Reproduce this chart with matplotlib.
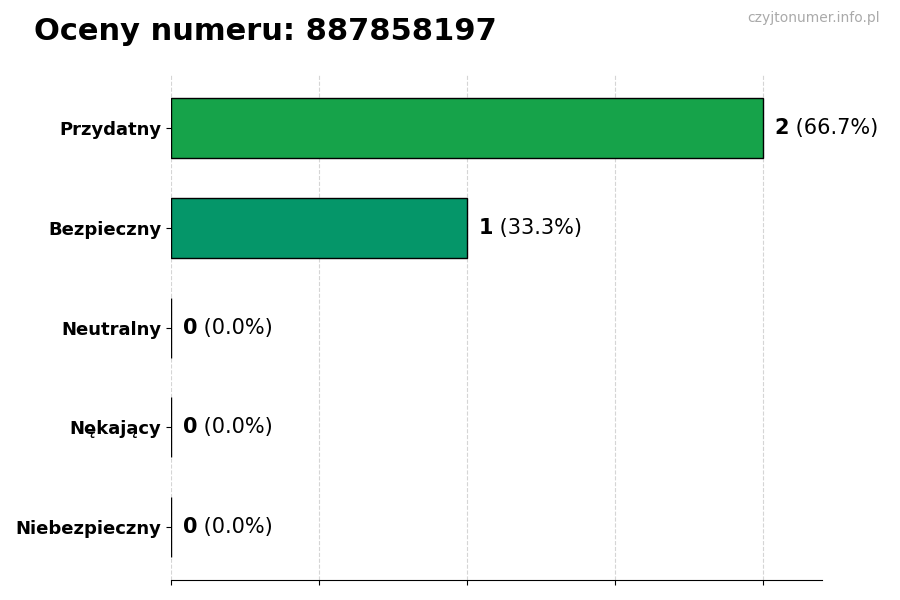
import matplotlib
matplotlib.use("Agg")
import matplotlib.pyplot as plt

categories = ["Przydatny", "Bezpieczny", "Neutralny", "Nękający", "Niebezpieczny"]
counts = [2, 1, 0, 0, 0]
colors = ["#16a34a", "#059669", "#6b7280", "#dc6b2f", "#dc2626"]
title = "Oceny numeru: 887858197"
watermark = "czyjtonumer.info.pl"

total = sum(counts)
fig = plt.figure(figsize=(9, 6), dpi=100)
ax = fig.add_axes([0.19, 0.033, 0.723, 0.842])

ypos = list(range(len(categories)))
ax.barh(ypos, counts, height=0.6, color=colors, edgecolor="black", linewidth=1, zorder=2)
ax.invert_yaxis()
ax.set_yticks(ypos)
ax.set_yticklabels(categories, fontsize=13, fontweight="bold")
ax.set_xlim(0, 2.2)
ax.set_xticks([0, 0.5, 1, 1.5, 2])
ax.set_xticklabels([])
ax.grid(axis="x", linestyle="--", color="#d5d5d5", linewidth=0.8, zorder=0)
for s in ["top", "right", "left"]:
    ax.spines[s].set_visible(False)

for y, c in zip(ypos, counts):
    pct = c / total * 100 if total else 0
    x0 = c + 0.04
    t = ax.annotate(f"{c}", xy=(x0, y), va="center", ha="left", fontsize=15, fontweight="bold",
                    annotation_clip=False)
    ax.annotate(f" ({pct:.1f}%)", xycoords=t, xy=(1, 0.5), va="center", ha="left", fontsize=15,
                annotation_clip=False)

fig.text(0.038, 0.947, title, fontsize=22, fontweight="bold", va="center", ha="left")
fig.text(0.978, 0.97, watermark, fontsize=10, color="#aaaaaa", va="center", ha="right")

fig.savefig("out.png", dpi=100)
